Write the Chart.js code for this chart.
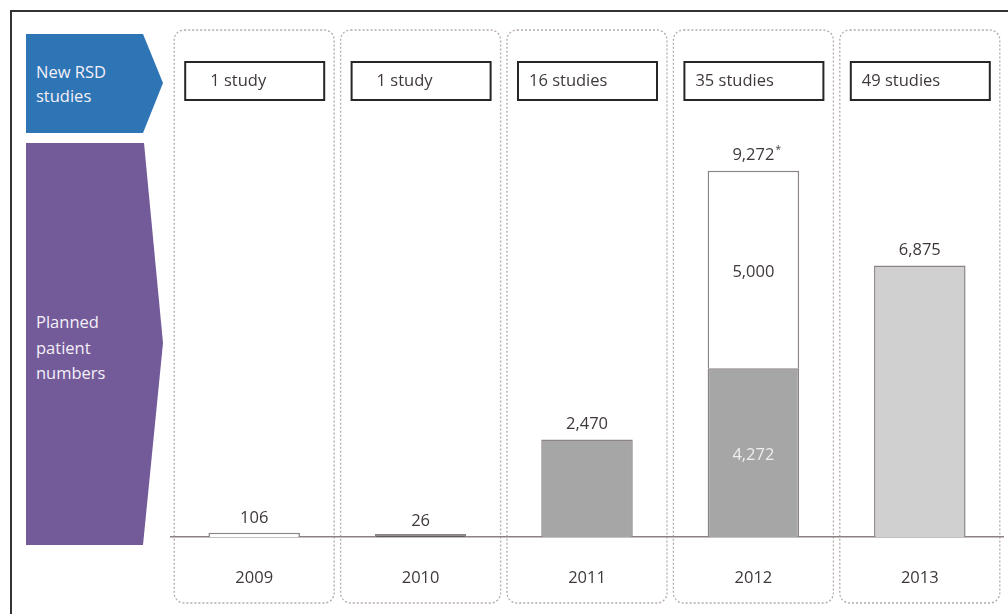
<!DOCTYPE html>
<html>
<head>
<meta charset="utf-8">
<script src="https://cdn.jsdelivr.net/npm/chart.js@4"></script>
<style>
  body { margin: 0; background: #fff; font-family: "Open Sans", sans-serif; }
  #wrap { position: relative; width: 1008px; height: 614px; overflow: hidden; }
  #frame { position: absolute; left: 10px; top: 10px; width: 1020px; height: 640px; border: 2px solid #333; }
  .arrow { position: absolute; left: 26px; width: 137px; color: #f4f0f8; font-size: 16.5px; }
  .arrow span { position: absolute; left: 10px; }
  #blue { top: 34px; height: 99px; background: #2e75b6; clip-path: polygon(0 0, 117px 0, 137px 49px, 117px 99px, 0 99px); }
  #blue span { top: 26px; line-height: 24px; }
  #purple { top: 143px; height: 402px; background: #735a99; clip-path: polygon(0 0, 118px 0, 137px 200px, 117px 402px, 0 402px); }
  #purple span { top: 166px; line-height: 25.5px; }
  canvas { position: absolute; left: 0; top: 0; }
</style>
</head>
<body>
<div id="wrap">
  <div id="frame"></div>
  <div class="arrow" id="blue"><span>New RSD<br>studies</span></div>
  <div class="arrow" id="purple"><span>Planned<br>patient<br>numbers</span></div>
  <canvas id="myChart" width="1008" height="614"></canvas>
</div>
<script>
// datos
const anios = ["2009", "2010", "2011", "2012", "2013"];
const estudios = [1, 1, 16, 35, 49];
const pacientesBase = [106, 26, 2470, 4272, 6875];
const pacientesExtra = [0, 0, 0, 5000, 0];
const etiquetasTotal = ["106", "26", "2,470", "9,272", "6,875"];
const notas = ["", "", "", "*", ""];

const colorTexto = "#3f3838";
const fuente = '16.5px "Open Sans"';

const columnas = {
  id: "columnas",
  beforeDraw(chart) {
    const { ctx, scales: { x } } = chart;
    ctx.save();
    anios.forEach((a, i) => {
      const cx = x.getPixelForValue(i);
      // caja punteada
      ctx.setLineDash([2, 2]);
      ctx.strokeStyle = "#b5a9a9";
      ctx.lineWidth = 1.3;
      ctx.beginPath();
      ctx.roundRect(cx - 80, 30, 160, 573, 10);
      ctx.stroke();
      // caja de estudios
      ctx.setLineDash([]);
      ctx.strokeStyle = "#262626";
      ctx.lineWidth = 2;
      ctx.strokeRect(cx - 69, 62, 139, 38);
      const n = estudios[i];
      const txt = n === 1 ? "1 study" : n + " studies";
      ctx.fillStyle = colorTexto;
      ctx.font = fuente;
      ctx.textBaseline = "middle";
      ctx.textAlign = "left";
      ctx.fillText(txt, cx - 69 + (n === 1 ? 25 : 11), 81);
    });
    ctx.restore();
  },
};

const etiquetas = {
  id: "etiquetas",
  afterDatasetsDraw(chart) {
    const { ctx, scales: { x, y } } = chart;
    ctx.save();
    ctx.font = fuente;
    ctx.textBaseline = "middle";
    anios.forEach((a, i) => {
      const cx = x.getPixelForValue(i);
      const total = pacientesBase[i] + pacientesExtra[i];
      const top = y.getPixelForValue(total);
      const w = ctx.measureText(etiquetasTotal[i]).width;
      ctx.fillStyle = colorTexto;
      ctx.textAlign = "center";
      ctx.fillText(etiquetasTotal[i], cx, top - 15);
      if (notas[i]) {
        ctx.font = '10px "Open Sans"';
        ctx.textAlign = "left";
        ctx.fillText(notas[i], cx + w / 2 + 1, top - 21);
        ctx.font = fuente;
      }
      if (pacientesExtra[i] > 0) {
        ctx.textAlign = "center";
        const yb = (y.getPixelForValue(0) + y.getPixelForValue(pacientesBase[i])) / 2;
        const ye = (y.getPixelForValue(pacientesBase[i]) + top) / 2;
        ctx.fillStyle = "#eeeeee";
        ctx.fillText(pacientesBase[i].toLocaleString("en-US"), cx, yb + 3);
        ctx.fillStyle = colorTexto;
        ctx.fillText(pacientesExtra[i].toLocaleString("en-US"), cx, ye + 3);
      }
    });
    ctx.restore();
  },
};

const ctx = document.getElementById("myChart");

new Chart(ctx, {
  type: "bar",
  data: {
    labels: anios,
    datasets: [
      {
        label: "base",
        data: pacientesBase,
        backgroundColor: ["#ffffff", "#5f5a5a", "#a6a6a6", "#a6a6a6", "#d0d0d0"],
        borderColor: "#8c8484",
        borderWidth: 1.5,
        minBarLength: 3,
      },
      {
        label: "extra",
        data: pacientesExtra,
        backgroundColor: "#ffffff",
        borderColor: "#8c8484",
        borderWidth: 1.5,
      },
    ],
  },
  options: {
    responsive: false,
    animation: false,
    devicePixelRatio: 1,
    layout: { padding: { left: 171, right: 5, top: 142, bottom: 0 } },
    plugins: { legend: { display: false }, tooltip: { enabled: false } },
    datasets: { bar: { categoryPercentage: 1, barPercentage: 0.55 } },
    scales: {
      x: {
        stacked: true,
        grid: { display: false, drawTicks: false },
        border: { display: true, color: "#8c8282", width: 1.5 },
        ticks: { color: colorTexto, font: { family: "Open Sans", size: 16.5 }, padding: 31 },
        afterFit: (s) => { s.height = 77; },
      },
      y: {
        stacked: true,
        display: false,
        min: 0,
        max: 10000,
      },
    },
  },
  plugins: [columnas, etiquetas],
});
</script>
</body>
</html>
